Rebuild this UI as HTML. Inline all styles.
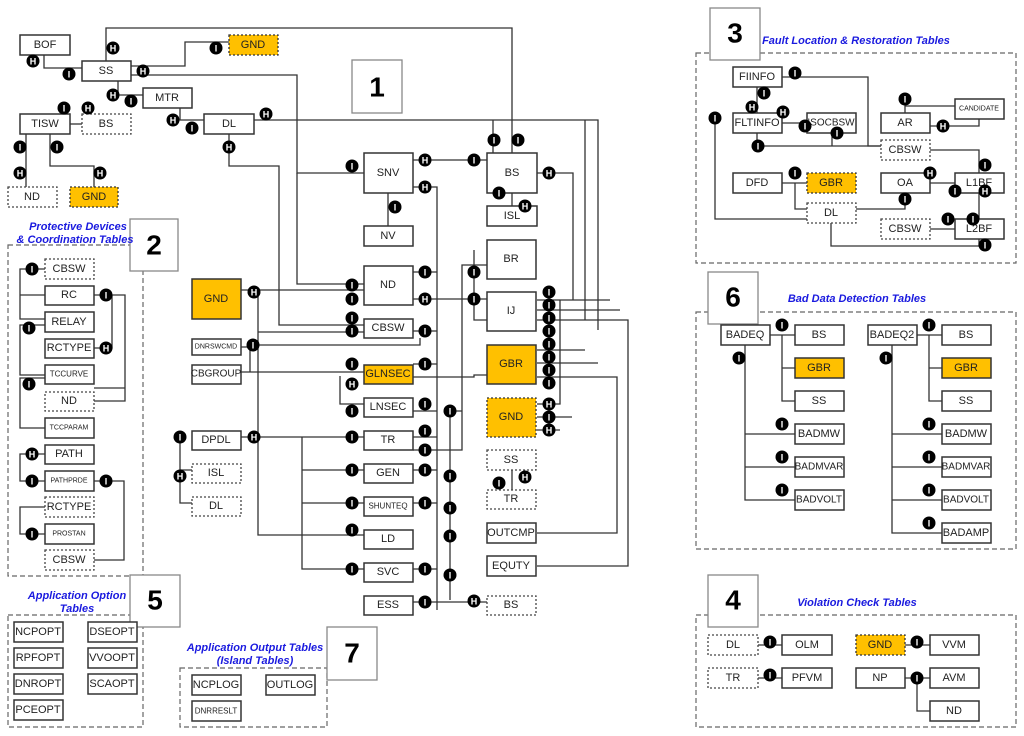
<!DOCTYPE html>
<html><head><meta charset="utf-8">
<style>
html,body{margin:0;padding:0;background:#fff}
svg{display:block}
text{font-family:"Liberation Sans",sans-serif}
.b{fill:#fff;stroke:#333;stroke-width:1.5}
.bd{fill:#fff;stroke:#444;stroke-width:1.3;stroke-dasharray:2 2}
.o{fill:#FFC000;stroke:#333;stroke-width:1.5}
.od{fill:#FFC000;stroke:#333;stroke-width:1.3;stroke-dasharray:2 2}
.t{font-size:11px;fill:#222;text-anchor:middle;dominant-baseline:central}
.ts{font-size:8px;fill:#222;text-anchor:middle;dominant-baseline:central}
.l{fill:none;stroke:#333;stroke-width:1.3}
.fr{fill:none;stroke:#666;stroke-width:1.2;stroke-dasharray:5 3}
.nb{fill:#fff;stroke:#888;stroke-width:1.3}
.num{font-size:28px;font-weight:bold;fill:#000;text-anchor:middle;dominant-baseline:central}
.ti{font-size:11px;font-weight:bold;font-style:italic;fill:#1a1adf;text-anchor:middle}
.m circle{fill:#000}
.m text{fill:#fff;font-size:9px;font-weight:bold;text-anchor:middle;dominant-baseline:central}
</style></head><body>
<svg width="1024" height="736" viewBox="0 0 1024 736" xmlns="http://www.w3.org/2000/svg">
<defs>
<g id="I" class="m"><circle r="6.5"/><text y="0.5">I</text></g>
<g id="H" class="m"><circle r="6.5"/><text y="0.5">H</text></g>
</defs>

<!-- ===== Panel 1 connectors ===== -->
<g class="l">
<path d="M106 61 V28 H512 V153"/>
<path d="M131 66 H185 V42 H229"/>
<path d="M131 75 H297 V173 H364"/>
<path d="M44 55 V68 H82"/>
<path d="M118 81 V95 H143"/>
<path d="M180 108 V120 H204"/>
<path d="M254 120 H598 V330"/>
<path d="M585 120 V320"/>
<path d="M493 120 V153"/>
<path d="M413 160 H487"/>
<path d="M413 187 H437 V610"/>
<path d="M537 173 H573 V300"/>
<path d="M512 193 V206"/>
<path d="M388 193 V226"/>
<path d="M229 134 V166 H279 V325 H364"/>
<path d="M70 124 H82"/>
<path d="M26 134 V187"/>
<path d="M50 134 V166 H94 V187"/>
<path d="M241 290 H364"/>
<path d="M258 290 V535 H364"/>
<path d="M297 173 V284 H364"/>
<path d="M258 332 H364"/>
<path d="M241 372 H258"/>
<path d="M258 345 H420 V338"/>
<path d="M258 372 H364"/>
<path d="M241 347 H250 V372"/>
<path d="M340 376 V404 H364"/>
<path d="M241 437 H364"/>
<path d="M302 437 V569 H364"/>
<path d="M302 470 H364 M302 503 H364"/>
<path d="M180 437 V503 H192 M180 470 H192"/>
<path d="M413 272 H437 M413 299 H487 M413 331 H437 M413 364 H437 M413 411 H437 M413 437 H437 M413 470 H437 M413 503 H437 M413 569 H437 M413 602 H487"/>
<path d="M413 450 H462 V265 H487"/>
<path d="M413 377 H474 V375 H487"/>
<path d="M450 405 V600 M450 411 H462"/>
<path d="M474 250 V320 H487"/>
<path d="M537 300 H610 M537 310 H620 M537 320 H628 V566 H537"/>
<path d="M537 350 H585 M537 363 H598 M537 377 H617 V533 H537"/>
<path d="M537 404 H560 V300 M537 417 H572 M537 430 H560"/>
<path d="M512 470 V490"/>
</g>

<!-- Panel 1 boxes -->
<rect class="b" x="20" y="35" width="50" height="20"/><text class="t" x="45" y="45">BOF</text>
<rect class="b" x="82" y="61" width="49" height="20"/><text class="t" x="106" y="71">SS</text>
<rect class="od" x="229" y="35" width="49" height="20"/><text class="t" x="253" y="45">GND</text>
<rect class="b" x="143" y="88" width="49" height="20"/><text class="t" x="167" y="98">MTR</text>
<rect class="b" x="20" y="114" width="50" height="20"/><text class="t" x="45" y="124">TISW</text>
<rect class="bd" x="82" y="114" width="49" height="20"/><text class="t" x="106" y="124">BS</text>
<rect class="b" x="204" y="114" width="50" height="20"/><text class="t" x="229" y="124">DL</text>
<rect class="bd" x="8" y="187" width="49" height="20"/><text class="t" x="32" y="197">ND</text>
<rect class="od" x="70" y="187" width="48" height="20"/><text class="t" x="94" y="197">GND</text>

<rect class="nb" x="352" y="60" width="50" height="53"/><text class="num" x="377" y="87">1</text>

<rect class="b" x="364" y="153" width="49" height="40"/><text class="t" x="388" y="173">SNV</text>
<rect class="b" x="487" y="153" width="50" height="40"/><text class="t" x="512" y="173">BS</text>
<rect class="b" x="487" y="206" width="50" height="20"/><text class="t" x="512" y="216">ISL</text>
<rect class="b" x="364" y="226" width="49" height="20"/><text class="t" x="388" y="236">NV</text>
<rect class="b" x="487" y="240" width="49" height="39"/><text class="t" x="511" y="259">BR</text>
<rect class="b" x="364" y="266" width="49" height="39"/><text class="t" x="388" y="285">ND</text>
<rect class="b" x="487" y="292" width="49" height="39"/><text class="t" x="511" y="311">IJ</text>
<rect class="b" x="364" y="319" width="49" height="19"/><text class="t" x="388" y="328">CBSW</text>
<rect class="o" x="487" y="345" width="49" height="39"/><text class="t" x="511" y="364">GBR</text>
<rect class="o" x="364" y="365" width="49" height="19"/><text class="t" x="388" y="374">GLNSEC</text>
<rect class="b" x="364" y="398" width="49" height="19"/><text class="t" x="388" y="407">LNSEC</text>
<rect class="od" x="487" y="398" width="49" height="39"/><text class="t" x="511" y="417">GND</text>
<rect class="b" x="364" y="431" width="49" height="19"/><text class="t" x="388" y="440">TR</text>
<rect class="bd" x="487" y="450" width="49" height="20"/><text class="t" x="511" y="460">SS</text>
<rect class="b" x="364" y="464" width="49" height="19"/><text class="t" x="388" y="473">GEN</text>
<rect class="bd" x="487" y="490" width="49" height="19"/><text class="t" x="511" y="499">TR</text>
<rect class="b" x="364" y="497" width="49" height="19"/><text class="ts" x="388" y="506">SHUNTEQ</text>
<rect class="b" x="487" y="523" width="49" height="20"/><text class="t" x="511" y="533">OUTCMP</text>
<rect class="b" x="364" y="530" width="49" height="19"/><text class="t" x="388" y="539">LD</text>
<rect class="b" x="487" y="556" width="49" height="20"/><text class="t" x="511" y="566">EQUTY</text>
<rect class="b" x="364" y="563" width="49" height="19"/><text class="t" x="388" y="572">SVC</text>
<rect class="b" x="364" y="596" width="49" height="19"/><text class="t" x="388" y="605">ESS</text>
<rect class="bd" x="487" y="596" width="49" height="19"/><text class="t" x="511" y="605">BS</text>

<rect class="o" x="192" y="279" width="49" height="40"/><text class="t" x="216" y="299">GND</text>
<rect class="b" x="192" y="339" width="49" height="16"/><text class="ts" x="216" y="347" style="font-size:7px">DNRSWCMD</text>
<rect class="b" x="192" y="365" width="49" height="19"/><text class="t" x="216" y="374" style="font-size:10px">CBGROUP</text>
<rect class="b" x="192" y="431" width="49" height="19"/><text class="t" x="216" y="440">DPDL</text>
<rect class="bd" x="192" y="464" width="49" height="19"/><text class="t" x="216" y="473">ISL</text>
<rect class="bd" x="192" y="497" width="49" height="19"/><text class="t" x="216" y="506">DL</text>

<!-- Panel 1 markers -->
<use href="#H" x="113" y="48"/><use href="#H" x="33" y="61"/><use href="#I" x="69" y="74"/>
<use href="#H" x="143" y="71"/><use href="#I" x="216" y="48"/>
<use href="#H" x="113" y="95"/><use href="#I" x="131" y="101"/>
<use href="#I" x="64" y="108"/><use href="#H" x="88" y="108"/>
<use href="#H" x="173" y="120"/><use href="#I" x="192" y="128"/>
<use href="#H" x="266" y="114"/><use href="#H" x="229" y="147"/>
<use href="#I" x="20" y="147"/><use href="#I" x="57" y="147"/>
<use href="#H" x="20" y="173"/><use href="#H" x="100" y="173"/>
<use href="#I" x="352" y="166"/><use href="#H" x="425" y="160"/><use href="#H" x="425" y="187"/>
<use href="#I" x="474" y="160"/><use href="#I" x="494" y="140"/><use href="#I" x="518" y="140"/>
<use href="#H" x="549" y="173"/><use href="#I" x="499" y="193"/><use href="#H" x="525" y="206"/>
<use href="#I" x="395" y="207"/>
<use href="#I" x="352" y="285"/><use href="#I" x="352" y="299"/><use href="#I" x="425" y="272"/><use href="#H" x="425" y="299"/>
<use href="#I" x="352" y="318"/><use href="#I" x="352" y="331"/><use href="#I" x="425" y="331"/>
<use href="#H" x="254" y="292"/><use href="#I" x="253" y="345"/>
<use href="#I" x="352" y="364"/><use href="#H" x="352" y="384"/><use href="#I" x="425" y="364"/>
<use href="#I" x="352" y="411"/><use href="#I" x="425" y="404"/><use href="#I" x="450" y="411"/>
<use href="#I" x="352" y="437"/><use href="#I" x="425" y="431"/><use href="#I" x="425" y="450"/>
<use href="#I" x="352" y="470"/><use href="#I" x="425" y="470"/><use href="#I" x="450" y="476"/>
<use href="#I" x="352" y="503"/><use href="#I" x="425" y="503"/><use href="#I" x="450" y="508"/>
<use href="#I" x="352" y="530"/><use href="#I" x="450" y="536"/>
<use href="#I" x="352" y="569"/><use href="#I" x="425" y="569"/><use href="#I" x="450" y="575"/>
<use href="#I" x="425" y="602"/><use href="#H" x="474" y="601"/>
<use href="#H" x="254" y="437"/><use href="#I" x="180" y="437"/><use href="#H" x="180" y="476"/>
<use href="#I" x="474" y="272"/><use href="#I" x="474" y="299"/>
<use href="#I" x="549" y="292"/><use href="#I" x="549" y="305"/><use href="#I" x="549" y="318"/><use href="#I" x="549" y="331"/>
<use href="#I" x="549" y="344"/><use href="#I" x="549" y="357"/><use href="#I" x="549" y="370"/><use href="#I" x="549" y="383"/>
<use href="#H" x="549" y="404"/><use href="#I" x="549" y="417"/><use href="#H" x="549" y="430"/>
<use href="#I" x="499" y="483"/><use href="#H" x="525" y="477"/>

<!-- ===== Panel 2 ===== -->
<rect class="fr" x="8" y="245" width="135" height="331"/>
<rect class="nb" x="130" y="219" width="48" height="52"/><text class="num" x="154" y="245">2</text>
<text class="ti" x="78" y="230">Protective Devices</text>
<text class="ti" x="75" y="243">&amp; Coordination Tables</text>
<g class="l">
<path d="M45 269 H20 V319 H45 M20 295 H45"/>
<path d="M94 295 H125 V388 H94 M112 295 V348 H94 M125 388 V401 H94"/>
<path d="M45 325 H20 V375 H45"/>
<path d="M45 378 H20 V428 H45"/>
<path d="M45 454 H20 V481 H45"/>
<path d="M94 481 H124 V560 H94"/>
<path d="M45 507 H20 V534 H45"/>
</g>
<rect class="bd" x="45" y="259" width="49" height="20"/><text class="t" x="69" y="269">CBSW</text>
<rect class="b" x="45" y="286" width="49" height="19"/><text class="t" x="69" y="295">RC</text>
<rect class="b" x="45" y="312" width="49" height="20"/><text class="t" x="69" y="322">RELAY</text>
<rect class="b" x="45" y="339" width="49" height="19"/><text class="t" x="69" y="348">RCTYPE</text>
<rect class="b" x="45" y="365" width="49" height="19"/><text class="ts" x="69" y="374">TCCURVE</text>
<rect class="bd" x="45" y="392" width="49" height="19"/><text class="t" x="69" y="401">ND</text>
<rect class="b" x="45" y="418" width="49" height="20"/><text class="ts" x="69" y="428" style="font-size:7px">TCCPARAM</text>
<rect class="b" x="45" y="445" width="49" height="19"/><text class="t" x="69" y="454">PATH</text>
<rect class="b" x="45" y="471" width="49" height="20"/><text class="ts" x="69" y="481" style="font-size:7px">PATHPRDE</text>
<rect class="bd" x="45" y="497" width="49" height="20"/><text class="t" x="69" y="507">RCTYPE</text>
<rect class="b" x="45" y="524" width="49" height="20"/><text class="ts" x="69" y="534" style="font-size:7px">PROSTAN</text>
<rect class="bd" x="45" y="550" width="49" height="20"/><text class="t" x="69" y="560">CBSW</text>
<use href="#I" x="32" y="269"/><use href="#I" x="106" y="295"/><use href="#I" x="29" y="328"/>
<use href="#H" x="106" y="348"/><use href="#I" x="29" y="384"/><use href="#H" x="32" y="454"/>
<use href="#I" x="32" y="481"/><use href="#I" x="106" y="481"/><use href="#I" x="32" y="534"/>

<!-- ===== Panel 3 ===== -->
<rect class="fr" x="696" y="53" width="320" height="210"/>
<rect class="nb" x="710" y="8" width="50" height="52"/><text class="num" x="735" y="33">3</text>
<text class="ti" x="856" y="44">Fault Location &amp; Restoration Tables</text>
<g class="l">
<path d="M782 77 H868 V146 H881"/>
<path d="M757 87 V113"/>
<path d="M782 123 H807"/>
<path d="M757 133 V146 H881 M832 133 V146"/>
<path d="M715 123 V219 H807"/>
<path d="M905 113 V106 H955 M930 126 H979 V119"/>
<path d="M930 150 H979 V173"/>
<path d="M782 183 H807 M795 183 V209 H807"/>
<path d="M930 183 H955 M905 193 V209 H856"/>
<path d="M979 193 V219 M955 229 H930"/>
<path d="M979 239 V246 H831 V223"/>
</g>
<rect class="b" x="733" y="67" width="49" height="20"/><text class="t" x="757" y="77">FIINFO</text>
<rect class="b" x="733" y="113" width="49" height="20"/><text class="t" x="757" y="123">FLTINFO</text>
<rect class="b" x="807" y="113" width="49" height="20"/><text class="t" x="831" y="123" style="font-size:10px">ISOCBSW</text>
<rect class="b" x="881" y="113" width="49" height="20"/><text class="t" x="905" y="123">AR</text>
<rect class="b" x="955" y="99" width="49" height="20"/><text class="ts" x="979" y="109" style="font-size:7px">CANDIDATE</text>
<rect class="bd" x="881" y="140" width="49" height="20"/><text class="t" x="905" y="150">CBSW</text>
<rect class="b" x="733" y="173" width="49" height="20"/><text class="t" x="757" y="183">DFD</text>
<rect class="od" x="807" y="173" width="49" height="20"/><text class="t" x="831" y="183">GBR</text>
<rect class="b" x="881" y="173" width="49" height="20"/><text class="t" x="905" y="183">OA</text>
<rect class="b" x="955" y="173" width="49" height="20"/><text class="t" x="979" y="183">L1BF</text>
<rect class="bd" x="807" y="203" width="49" height="20"/><text class="t" x="831" y="213">DL</text>
<rect class="bd" x="881" y="219" width="49" height="20"/><text class="t" x="905" y="229">CBSW</text>
<rect class="b" x="955" y="219" width="49" height="20"/><text class="t" x="979" y="229">L2BF</text>
<use href="#I" x="795" y="73"/><use href="#I" x="764" y="93"/><use href="#H" x="752" y="107"/>
<use href="#H" x="783" y="112"/><use href="#I" x="805" y="126"/><use href="#I" x="715" y="118"/>
<use href="#I" x="758" y="146"/><use href="#I" x="837" y="133"/>
<use href="#I" x="905" y="99"/><use href="#H" x="943" y="126"/>
<use href="#I" x="795" y="173"/><use href="#H" x="930" y="173"/><use href="#I" x="955" y="191"/>
<use href="#I" x="985" y="165"/><use href="#H" x="985" y="191"/><use href="#I" x="905" y="199"/>
<use href="#I" x="948" y="219"/><use href="#I" x="973" y="219"/><use href="#I" x="985" y="245"/>

<!-- ===== Panel 6 ===== -->
<rect class="fr" x="696" y="312" width="320" height="237"/>
<rect class="nb" x="708" y="272" width="50" height="52"/><text class="num" x="733" y="297">6</text>
<text class="ti" x="857" y="302">Bad Data Detection Tables</text>
<g class="l">
<path d="M770 335 H795 M782 335 V401 H795 M782 368 H795"/>
<path d="M745 345 V500 H795 M745 434 H795 M745 467 H795"/>
<path d="M917 335 H942 M929 335 V401 H942 M929 368 H942"/>
<path d="M892 345 V533 H942 M892 434 H942 M892 467 H942 M892 500 H942"/>
</g>
<rect class="b" x="721" y="325" width="49" height="20"/><text class="t" x="745" y="335">BADEQ</text>
<rect class="b" x="795" y="325" width="49" height="20"/><text class="t" x="819" y="335">BS</text>
<rect class="o" x="795" y="358" width="49" height="20"/><text class="t" x="819" y="368">GBR</text>
<rect class="b" x="795" y="391" width="49" height="20"/><text class="t" x="819" y="401">SS</text>
<rect class="b" x="795" y="424" width="49" height="20"/><text class="t" x="819" y="434">BADMW</text>
<rect class="b" x="795" y="457" width="49" height="20"/><text class="t" x="819" y="467" style="font-size:10px">BADMVAR</text>
<rect class="b" x="795" y="490" width="49" height="20"/><text class="t" x="819" y="500" style="font-size:10px">BADVOLT</text>
<rect class="b" x="868" y="325" width="49" height="20"/><text class="t" x="892" y="335">BADEQ2</text>
<rect class="b" x="942" y="325" width="49" height="20"/><text class="t" x="966" y="335">BS</text>
<rect class="o" x="942" y="358" width="49" height="20"/><text class="t" x="966" y="368">GBR</text>
<rect class="b" x="942" y="391" width="49" height="20"/><text class="t" x="966" y="401">SS</text>
<rect class="b" x="942" y="424" width="49" height="20"/><text class="t" x="966" y="434">BADMW</text>
<rect class="b" x="942" y="457" width="49" height="20"/><text class="t" x="966" y="467" style="font-size:10px">BADMVAR</text>
<rect class="b" x="942" y="490" width="49" height="20"/><text class="t" x="966" y="500" style="font-size:10px">BADVOLT</text>
<rect class="b" x="942" y="523" width="49" height="20"/><text class="t" x="966" y="533">BADAMP</text>
<use href="#I" x="782" y="325"/><use href="#I" x="739" y="358"/><use href="#I" x="782" y="424"/><use href="#I" x="782" y="457"/><use href="#I" x="782" y="490"/>
<use href="#I" x="929" y="325"/><use href="#I" x="886" y="358"/><use href="#I" x="929" y="424"/><use href="#I" x="929" y="457"/><use href="#I" x="929" y="490"/><use href="#I" x="929" y="523"/>

<!-- ===== Panel 4 ===== -->
<rect class="fr" x="696" y="615" width="320" height="112"/>
<rect class="nb" x="708" y="575" width="50" height="52"/><text class="num" x="733" y="600">4</text>
<text class="ti" x="857" y="606">Violation Check Tables</text>
<g class="l">
<path d="M758 645 H782 M758 678 H782 M905 645 H930 M905 678 H930 M917 678 V711 H930"/>
</g>
<rect class="bd" x="708" y="635" width="50" height="20"/><text class="t" x="733" y="645">DL</text>
<rect class="b" x="782" y="635" width="50" height="20"/><text class="t" x="807" y="645">OLM</text>
<rect class="od" x="856" y="635" width="49" height="20"/><text class="t" x="880" y="645">GND</text>
<rect class="b" x="930" y="635" width="49" height="20"/><text class="t" x="954" y="645">VVM</text>
<rect class="bd" x="708" y="668" width="50" height="20"/><text class="t" x="733" y="678">TR</text>
<rect class="b" x="782" y="668" width="50" height="20"/><text class="t" x="807" y="678">PFVM</text>
<rect class="b" x="856" y="668" width="49" height="20"/><text class="t" x="880" y="678">NP</text>
<rect class="b" x="930" y="668" width="49" height="20"/><text class="t" x="954" y="678">AVM</text>
<rect class="b" x="930" y="701" width="49" height="20"/><text class="t" x="954" y="711">ND</text>
<use href="#I" x="770" y="642"/><use href="#I" x="770" y="675"/><use href="#I" x="917" y="642"/><use href="#I" x="917" y="678"/>

<!-- ===== Panel 5 ===== -->
<rect class="fr" x="8" y="615" width="135" height="112"/>
<rect class="nb" x="130" y="575" width="50" height="52"/><text class="num" x="155" y="600">5</text>
<text class="ti" x="77" y="599">Application Option</text>
<text class="ti" x="77" y="612">Tables</text>
<rect class="b" x="14" y="622" width="49" height="20"/><text class="t" x="38" y="632">NCPOPT</text>
<rect class="b" x="88" y="622" width="49" height="20"/><text class="t" x="112" y="632">DSEOPT</text>
<rect class="b" x="14" y="648" width="49" height="20"/><text class="t" x="38" y="658">RPFOPT</text>
<rect class="b" x="88" y="648" width="49" height="20"/><text class="t" x="112" y="658">VVOOPT</text>
<rect class="b" x="14" y="674" width="49" height="20"/><text class="t" x="38" y="684">DNROPT</text>
<rect class="b" x="88" y="674" width="49" height="20"/><text class="t" x="112" y="684">SCAOPT</text>
<rect class="b" x="14" y="700" width="49" height="20"/><text class="t" x="38" y="710">PCEOPT</text>

<!-- ===== Panel 7 ===== -->
<rect class="fr" x="180" y="668" width="147" height="59"/>
<rect class="nb" x="327" y="627" width="50" height="53"/><text class="num" x="352" y="653">7</text>
<text class="ti" x="255" y="651">Application Output Tables</text>
<text class="ti" x="255" y="664">(Island Tables)</text>
<rect class="b" x="192" y="675" width="49" height="20"/><text class="t" x="216" y="685">NCPLOG</text>
<rect class="b" x="266" y="675" width="49" height="20"/><text class="t" x="290" y="685">OUTLOG</text>
<rect class="b" x="192" y="701" width="49" height="20"/><text class="ts" x="216" y="711">DNRRESLT</text>
</svg>
</body></html>
